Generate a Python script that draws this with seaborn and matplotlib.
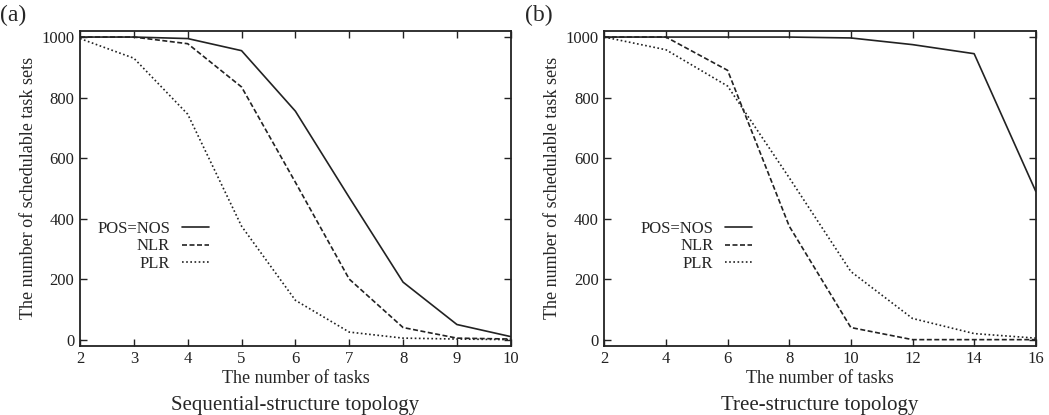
import pandas as pd
import seaborn as sns
from matplotlib import pyplot as plt

methods = ["POS=NOS", "NLR", "PLR"]

# (a) sequential-structure topology
seq_tasks = [2, 3, 4, 5, 6, 7, 8, 9, 10]
seq_pos = [1000, 1000, 995, 955, 755, 470, 190, 50, 10]
seq_nlr = [1000, 1000, 978, 835, 520, 200, 40, 5, 2]
seq_plr = [995, 930, 745, 375, 130, 25, 5, 2, 0]

# (b) tree-structure topology
tree_tasks = [2, 4, 6, 8, 10, 12, 14, 16]
tree_pos = [1000, 1000, 1000, 1000, 997, 975, 945, 490]
tree_nlr = [1000, 1000, 890, 375, 40, 0, 0, 0]
tree_plr = [1000, 958, 838, 535, 225, 70, 20, 5]


def long_table(tasks, series):
    rows = []
    for m, vals in zip(methods, series):
        for t, v in zip(tasks, vals):
            rows.append({"tasks": t, "count": v, "method": m})
    return pd.DataFrame(rows)


sns.set_theme(style="ticks")
plt.rcParams["font.family"] = ["Liberation Serif", "DejaVu Serif"]
plt.rcParams["axes.linewidth"] = 1.3

fig = plt.figure(figsize=(10.49, 4.15), dpi=100)
ax_a = fig.add_axes([0.0763, 0.167, 0.4106, 0.7583])
ax_b = fig.add_axes([0.5761, 0.167, 0.4113, 0.7583])

dashes = {"POS=NOS": "", "NLR": (3, 1.5), "PLR": (1, 1.5)}

panels = [
    (ax_a, long_table(seq_tasks, [seq_pos, seq_nlr, seq_plr]), seq_tasks,
     "(a)", "Sequential-structure topology", 0.300),
    (ax_b, long_table(tree_tasks, [tree_pos, tree_nlr, tree_plr]), tree_tasks,
     "(b)", "Tree-structure topology", 0.343),
]

for ax, df, ticks, tag, subtitle, leg_x in panels:
    sns.lineplot(data=df, x="tasks", y="count", style="method",
                 style_order=methods, dashes=dashes, color="#222222",
                 linewidth=1.2, ax=ax)
    ax.set_xlim(ticks[0], ticks[-1])
    ax.set_ylim(-20, 1020)
    ax.set_xticks(ticks)
    ax.set_yticks([0, 200, 400, 600, 800, 1000])
    ax.tick_params(direction="in", length=5, width=1, top=True, right=True,
                   labelsize=12, colors="#222222", pad=4)
    ax.set_xlabel("The number of tasks", fontsize=13, labelpad=2)
    ax.set_ylabel("The number of schedulable task sets", fontsize=13, labelpad=3)
    for s in ax.spines.values():
        s.set_color("#222222")

    handles, labels = ax.get_legend_handles_labels()
    ax.legend(handles, labels, markerfirst=False, frameon=False, fontsize=12,
              loc="upper right", bbox_to_anchor=(leg_x, 0.397),
              borderpad=0, borderaxespad=0, handlelength=1.65,
              handletextpad=0.7, labelspacing=0.1)

    ax.text(-0.185, 1.048, tag, transform=ax.transAxes, fontsize=17,
            ha="left", va="center")
    ax.text(0.5, -0.19, subtitle, transform=ax.transAxes, fontsize=15,
            ha="center", va="center")

fig.savefig("out.png", dpi=100)
